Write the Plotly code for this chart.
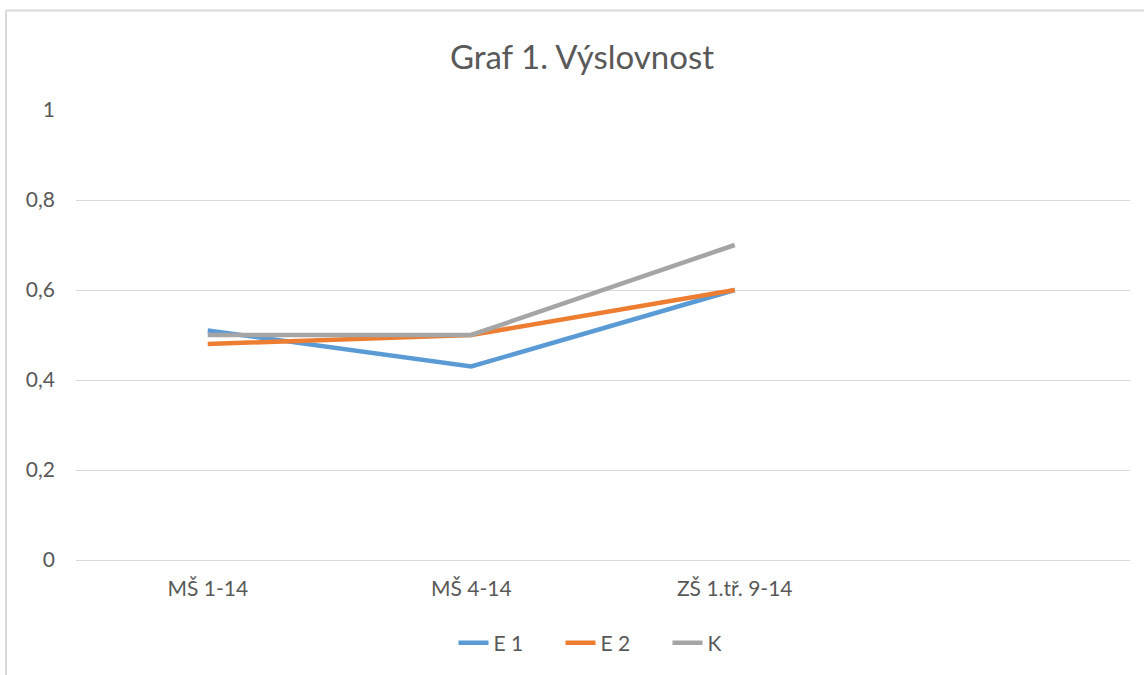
import plotly.graph_objects as go

categories = ["MŠ 1-14", "MŠ 4-14", "ZŠ 1.tř. 9-14"]
e1 = [0.51, 0.43, 0.60]
e2 = [0.48, 0.50, 0.60]
k = [0.50, 0.50, 0.70]
y_ticks = [0, 0.2, 0.4, 0.6, 0.8, 1]
y_labels = ["0", "0,2", "0,4", "0,6", "0,8", "1"]

W, H = 1144, 675
L, R, T, B = 76, 14, 110, 115
pw, ph = W - L - R, H - T - B

font = "Lato, 'Open Sans', sans-serif"
grey = "#595959"

fig = go.Figure()
xs = list(range(len(categories)))
for name, vals, col in [("E 1", e1, "#5B9BD5"), ("E 2", e2, "#ED7D31"), ("K", k, "#A5A5A5")]:
    fig.add_trace(go.Scatter(x=xs, y=vals, mode="lines", name=name,
                             line=dict(color=col, width=4.5)))

def px_x(p):
    return (p - L) / pw

def px_y(p):
    return (H - B - p) / ph

# chart frame
fig.add_shape(type="line", xref="paper", yref="paper",
              x0=px_x(6), x1=px_x(6), y0=px_y(10.5), y1=px_y(H + 5),
              line=dict(color="#D9D9D9", width=2))
fig.add_shape(type="line", xref="paper", yref="paper",
              x0=px_x(6), x1=px_x(W + 5), y0=px_y(10.5), y1=px_y(10.5),
              line=dict(color="#D9D9D9", width=2))

fig.update_layout(
    width=W, height=H,
    margin=dict(l=L, r=R, t=T, b=B),
    plot_bgcolor="white", paper_bgcolor="white",
    font=dict(family=font, color=grey, size=21),
    title=dict(text="Graf 1. Výslovnost", x=582 / W, xref="container", xanchor="center",
               y=1 - 57 / H, yanchor="middle", font=dict(size=33, color=grey)),
    showlegend=True,
    legend=dict(orientation="h", x=px_x(614), xanchor="center", y=px_y(643), yanchor="middle",
                font=dict(size=21, color=grey), bgcolor="rgba(0,0,0,0)",
                entrywidth=62, entrywidthmode="pixels"),
    xaxis=dict(range=[-0.5, 3.5], tickvals=xs, ticktext=categories, showgrid=False,
               zeroline=False, showline=False, ticks="", ticklabelstandoff=14,
               tickfont=dict(size=21, color=grey)),
    yaxis=dict(range=[0, 1], tickvals=y_ticks, ticktext=y_labels, showgrid=True,
               gridcolor="#D9D9D9", gridwidth=1, zeroline=True, zerolinecolor="#D9D9D9",
               zerolinewidth=1, showline=False, ticks="", ticklabelstandoff=20,
               tickfont=dict(size=21, color=grey)),
)

fig.write_html("out.html", config={"displayModeBar": False},
               post_script="document.body.style.margin='0';document.body.style.overflow='hidden';")
